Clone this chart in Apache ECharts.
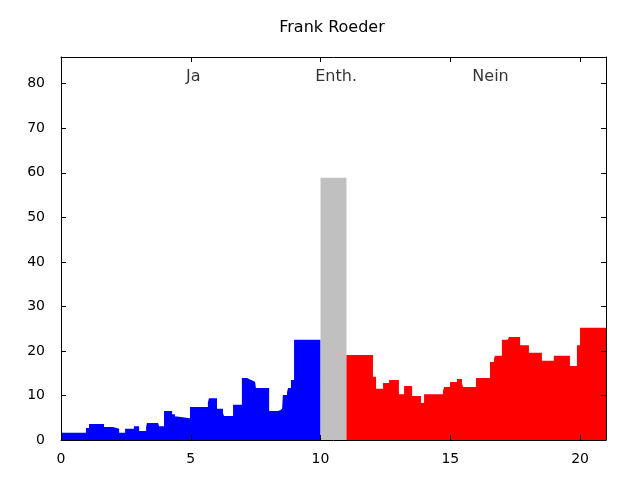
<!DOCTYPE html>
<html><head><meta charset="utf-8">
<script src="https://cdn.jsdelivr.net/npm/echarts@6/dist/echarts.min.js"></script>
<style>html,body{margin:0;padding:0;background:#fff}#c{width:640px;height:480px}</style>
</head><body><div id="c"></div>
<script>
const titleText = 'Frank Roeder';
// step series: [x start, value]
const jaX = [0, 0.96, 1.08, 1.66, 2.0, 2.24, 2.47, 2.81, 3.01, 3.28, 3.31, 3.74, 3.78, 3.97, 4.28, 4.39, 4.47, 4.97, 5.66, 5.70, 6.01, 6.24, 6.28, 6.63, 6.97, 7.17, 7.24, 7.32, 7.40, 7.48, 7.51, 8.02, 8.36, 8.44, 8.52, 8.55, 8.71, 8.75, 8.86, 8.98, 10];
const jaY = [1.6, 2.7, 3.6, 2.9, 2.5, 1.6, 2.5, 3.1, 2.0, 2.9, 3.8, 3.4, 3.1, 6.5, 5.8, 5.3, 4.9, 7.4, 8.4, 9.4, 7.0, 6.1, 5.4, 7.9, 13.9, 13.7, 13.5, 13.3, 13.0, 12.6, 11.7, 6.5, 6.7, 7.0, 7.4, 10.1, 10.8, 11.7, 13.5, 22.5, 22.5];
const enthX = [10, 11];
const enthY = [58.9, 58.9];
const neinX = [11, 12.02, 12.14, 12.41, 12.64, 13.02, 13.22, 13.53, 13.87, 13.99, 14.72, 14.76, 14.99, 15.26, 15.45, 15.49, 15.99, 16.53, 16.68, 16.72, 16.99, 17.22, 17.26, 17.69, 18.03, 18.53, 18.99, 19.61, 19.88, 20.0, 21];
const neinY = [19.1, 14.2, 11.5, 12.8, 13.5, 10.3, 12.1, 9.9, 8.3, 10.3, 11.0, 11.9, 13.0, 13.7, 12.8, 11.9, 13.9, 17.5, 18.2, 18.9, 22.5, 22.7, 23.1, 21.3, 19.6, 17.8, 18.9, 16.6, 21.3, 25.2, 25.2];
const annText = ['Ja', 'Enth.', 'Nein'];
const annX = [5.1, 10.6, 16.55];
const annY = [81.5, 81.5, 81.5];
const xTicks = [0, 5, 10, 15, 20];
const yTicks = [0, 10, 20, 30, 40, 50, 60, 70, 80];

const FONT = 'DejaVu Sans';
const pairs = (xs, ys) => xs.map((x, i) => [x, ys[i]]);
function stepSeries(name, xs, ys, color) {
  return {
    name, type: 'line', step: 'end', data: pairs(xs, ys), symbol: 'none',
    xAxisIndex: 0, yAxisIndex: 0,
    lineStyle: {width: 0, color}, areaStyle: {color, opacity: 1}, itemStyle: {color},
    animation: false, z: 2
  };
}
function makeAxis(min, max, interval, position, ticks, showLabels, margin) {
  return {
    type: 'value', min, max, interval, position,
    axisLine: {show: true, onZero: false, lineStyle: {color: '#000', width: 1}},
    axisTick: {show: true, inside: true, length: 5, customValues: ticks, lineStyle: {color: '#000', width: 1}},
    splitLine: {show: false},
    axisLabel: showLabels ? {show: true, margin, fontFamily: FONT, fontSize: 14, color: '#000',
      customValues: ticks, hideOverlap: false, formatter: v => String(v)} : {show: false},
    z: 10
  };
}
const chart = echarts.init(document.getElementById('c'), null, {renderer: 'canvas'});
chart.setOption({
  animation: false,
  title: {text: titleText, left: 327, top: 15, textAlign: 'center',
    textStyle: {fontFamily: FONT, fontSize: 16, fontWeight: 'normal', color: '#000'}},
  grid: {left: 61, right: 34, top: 57, bottom: 40, containLabel: false},
  xAxis: [
    makeAxis(0, 21, 5, 'bottom', xTicks, true, 12),
    makeAxis(0, 21, 5, 'top', xTicks, false, 8)
  ],
  yAxis: [
    makeAxis(0, 86, 10, 'left', yTicks, true, 16),
    makeAxis(0, 86, 10, 'right', yTicks, false, 8)
  ],
  series: [
    stepSeries('Ja', jaX, jaY, '#0000ff'),
    stepSeries('Enth.', enthX, enthY, '#c0c0c0'),
    stepSeries('Nein', neinX, neinY, '#ff0000'),
    {type: 'scatter', symbolSize: 0, xAxisIndex: 0, yAxisIndex: 0,
      data: annX.map((x, i) => [x, annY[i], annText[i]]),
      label: {show: true, position: 'inside', formatter: p => p.data[2],
        fontFamily: FONT, fontSize: 16, color: '#000'}, z: 5, silent: true},
    {type: 'line', xAxisIndex: 1, yAxisIndex: 1, data: [], symbol: 'none'}
  ]
});
</script></body></html>
